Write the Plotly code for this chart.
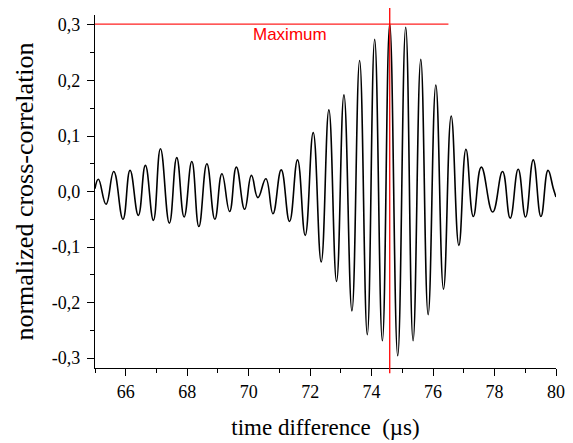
import plotly.graph_objects as go

# Extrema of the cross-correlation curve (time in µs)
time_us = [65.00, 65.11, 65.36, 65.61, 65.91, 66.14, 66.41, 66.64, 66.90, 67.13,
           67.42, 67.66, 67.90, 68.15, 68.38, 68.64, 68.90, 69.13, 69.38, 69.60,
           69.87, 70.09, 70.30, 70.56, 70.79, 71.06, 71.33, 71.59, 71.84, 72.10,
           72.36, 72.61, 72.86, 73.10, 73.36, 73.61, 73.86, 74.10, 74.35, 74.59,
           74.85, 75.11, 75.35, 75.60, 75.84, 76.09, 76.34, 76.59, 76.84, 77.07,
           77.31, 77.57, 77.94, 78.26, 78.51, 78.77, 79.01, 79.26, 79.51, 79.74,
           79.91, 80.00]
correlation = [0.005, 0.022, -0.023, 0.036, -0.050, 0.038, -0.043, 0.047, -0.052, 0.077,
               -0.057, 0.061, -0.046, 0.054, -0.063, 0.050, -0.050, 0.032, -0.036, 0.044,
               -0.032, 0.029, -0.011, 0.023, -0.040, 0.039, -0.054, 0.057, -0.079, 0.106,
               -0.127, 0.147, -0.162, 0.174, -0.215, 0.236, -0.258, 0.274, -0.269, 0.302,
               -0.296, 0.296, -0.269, 0.238, -0.222, 0.192, -0.176, 0.136, -0.097, 0.076,
               -0.045, 0.044, -0.037, 0.036, -0.048, 0.040, -0.046, 0.057, -0.045, 0.038,
               0.006, -0.010]

max_time = 74.59
max_value = 0.3015
max_line_end = 76.5
max_label = "Maximum"

x_tick_vals = [66, 68, 70, 72, 74, 76, 78, 80]
x_tick_text = ["66", "68", "70", "72", "74", "76", "78", "80"]
y_tick_vals = [-0.3, -0.2, -0.1, 0.0, 0.1, 0.2, 0.3]
y_tick_text = ["-0,3", "-0,2", "-0,1", "0,0", "0,1", "0,2", "0,3"]

x_range = [65, 80]
y_range = [-0.318, 0.318]

serif = "Liberation Serif"

fig = go.Figure()
fig.add_trace(go.Scatter(
    x=time_us, y=correlation, mode="lines",
    line=dict(color="black", width=1.6, shape="spline", smoothing=1.3),
    showlegend=False, hoverinfo="skip",
))

# Maximum marker lines
fig.add_shape(type="line", xref="x", yref="y", x0=x_range[0], x1=max_line_end,
              y0=max_value, y1=max_value, line=dict(color="#ff2020", width=1.3))
fig.add_shape(type="line", xref="x", yref="paper", x0=max_time, x1=max_time,
              y0=-0.015, y1=1.02, line=dict(color="#ff0000", width=1.3))
fig.add_annotation(x=71.36, y=0.282, xref="x", yref="y", text=max_label,
                   showarrow=False, font=dict(family="Liberation Sans", size=17, color="#ff0000"))

# page body has an 8px margin, so the figure is offset by 8px
fig.update_layout(
    width=565, height=435,
    margin=dict(l=87, r=17, t=7, b=75),
    paper_bgcolor="white", plot_bgcolor="white",
    font=dict(family=serif, size=18, color="black"),
)
fig.update_xaxes(
    range=x_range, showgrid=False, zeroline=False,
    showline=True, linecolor="black", linewidth=1.3,
    ticks="outside", ticklen=7, tickwidth=1.3, tickcolor="black",
    tickvals=x_tick_vals, ticktext=x_tick_text,
    minor=dict(ticks="outside", ticklen=4, tickwidth=1.3, tickcolor="black", dtick=1, tick0=65),
    tickfont=dict(family=serif, size=18),
    title=dict(text="time difference  (µs)", font=dict(family=serif, size=23), standoff=18),
    automargin=False,
)
fig.update_yaxes(
    range=y_range, showgrid=False, zeroline=False,
    showline=True, linecolor="black", linewidth=1.3,
    ticks="outside", ticklen=7, tickwidth=1.3, tickcolor="black",
    tickvals=y_tick_vals, ticktext=y_tick_text, ticklabelstandoff=3,
    minor=dict(ticks="outside", ticklen=4, tickwidth=1.3, tickcolor="black", dtick=0.05, tick0=0),
    tickfont=dict(family=serif, size=18),
    title=dict(text="normalized cross-correlation", font=dict(family=serif, size=26), standoff=10),
    automargin=False,
)

fig.write_html("out.html")
